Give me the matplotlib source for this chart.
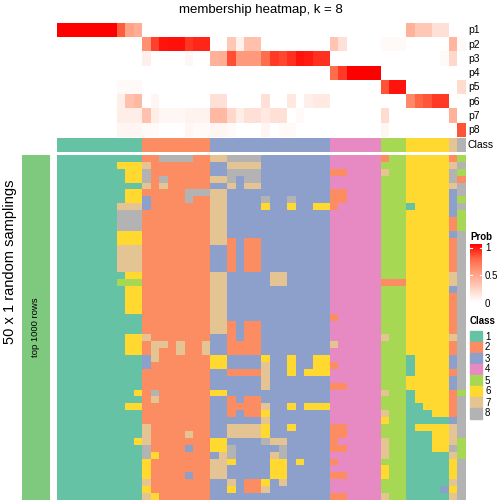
import numpy as np
import matplotlib
matplotlib.use("Agg")
import matplotlib.pyplot as plt
from matplotlib.colors import ListedColormap, BoundaryNorm, LinearSegmentedColormap
from matplotlib.patches import Rectangle

plt.rcParams['font.family'] = ['Liberation Sans', 'DejaVu Sans']

# ---------------- data ----------------
title = "membership heatmap, k = 8"
row_labels = ["p1", "p2", "p3", "p4", "p5", "p6", "p7", "p8"]
class_labels = ["1", "2", "3", "4", "5", "6", "7", "8"]
class_colors = ["#66C2A5", "#FC8D62", "#8DA0CB", "#E78AC3",
                "#A6D854", "#FFD92F", "#E5C494", "#B3B3B3"]
side_label = "50 x 1 random samplings"
side_bar_label = "top 1000 rows"
side_bar_color = "#7FC97F"

# consensus class of each of the 48 columns
consensus_class = "1111111111" "22222222" "33333333333333" "444444" "555" "66666" "7" "8"

# membership probabilities (48 columns each)
p1 = [1, 1, 1, 1, 1, 1, 1, 0.78, 0.48, 0.42] + [0] * 31 + [0.4, 0.29, 0.29, 0.16, 0.16, 0, 0]
p2 = [0] * 10 + [0.56, 0.84, 0.95, 0.96, 0.96, 0.87, 0.91, 0.91,
                 0, 0, 0.29, 0.07, 0.32, 0.32] + [0] * 8 + [0.3, 0.16, 0, 0, 0, 0,
                 0.03, 0.03, 0.03, 0, 0, 0, 0, 0, 0.38, 0.03]
p3 = [0] * 10 + [0.08, 0, 0, 0, 0, 0.04, 0, 0,
                 0.4, 0.42, 0.81, 0.52, 0.52, 0.52, 0.72, 0.86, 0.83, 0.88, 0.95, 0.93, 0.88, 0.88] + \
     [0] * 13 + [0.03, 0.2, 0]
p4 = [0] * 32 + [0.72, 0.86, 1, 1, 1, 1] + [0] * 10
p5 = [0] * 7 + [0.03, 0.03, 0.03] + [0] * 28 + [0.8, 0.95, 0.95] + [0] * 6 + [0.18]
p6 = [0] * 7 + [0.08, 0.32, 0.36, 0, 0.05] + [0] * 6 + [0.16, 0.16, 0, 0, 0, 0, 0.16, 0, 0, 0.12,
     0, 0.08, 0.11, 0.11] + [0] * 9 + [0.6, 0.75, 0.79, 0.86, 0.86, 0, 0]
p7 = [0] * 7 + [0.09, 0.09, 0.09, 0.32, 0.09, 0.04, 0.04, 0.04, 0.06, 0.06, 0.06,
     0.36, 0.36, 0.2, 0.09, 0.16, 0.16, 0.11, 0.16, 0.16, 0, 0.03, 0, 0, 0] + \
     [0] * 6 + [0.18, 0, 0] + [0] * 5 + [0.4, 0]
p8 = [0] * 7 + [0.05, 0.05, 0.05, 0.03, 0.03, 0, 0, 0, 0.05, 0.03, 0.03,
     0.05, 0.05, 0.03, 0, 0, 0, 0.05, 0, 0.03, 0.03, 0, 0, 0, 0] + \
     [0] * 6 + [0.05, 0, 0] + [0] * 5 + [0, 0.8]

# class assignments in each of the 50 samplings (rows) for the 48 columns
samplings = [
    "1111111 111 22888822 77888833333333 444444 255 66666 2 5",
    "1111111 666 72222222 33777733333333 444444 555 66666 7 8",
    "1111111 166 82222222 33888833333333 224444 755 66666 8 5",
    "1111111 166 82822222 77838833333333 444444 555 66666 8 2",
    "1111111 111 72722222 33737733333333 444444 555 66666 7 8",
    "1111111 166 22222888 77333333333333 224444 555 66666 3 8",
    "1111111 166 32222822 77333383383333 224444 555 66666 3 5",
    "1111111 777 32222222 77333363363366 244444 555 16666 3 8",
    "1111111 888 22222222 77333333333333 444444 555 66666 3 5",
    "1111111 888 22222222 77333333333333 444444 555 66666 2 5",
    "1111111 888 22222222 77333333333333 444444 555 66666 2 5",
    "1111111 666 22222222 77333333333333 444444 555 66666 3 8",
    "1111111 666 22222222 77232233333333 444444 555 66666 2 8",
    "1111111 777 22222222 33232233333333 444444 555 66666 2 8",
    "1111111 777 22222222 33232233333333 444444 555 66666 2 8",
    "1111111 777 22222222 33232233333333 444444 555 66666 2 8",
    "1111111 777 22222222 33232233333333 444444 555 66666 2 8",
    "1111111 166 22222222 77333337733333 444444 555 66666 7 8",
    "1111111 555 22222222 77333337733333 444444 222 66666 7 8",
    "1111111 166 22222222 77333333333333 444444 555 66666 3 8",
    "1111111 166 22222222 77333333333333 444444 555 66666 2 8",
    "1111111 166 22222222 77333333333333 444444 555 66666 2 8",
    "1111111 166 22222222 77333333333333 444444 555 66666 2 8",
    "1111111 111 22222222 77333333333333 244444 555 66666 2 8",
    "1111111 111 22222222 77232233333333 444444 555 66666 2 8",
    "1111111 111 22222222 77232233333333 444444 555 66666 2 8",
    "1111111 166 72222222 33232233333333 444444 755 66666 7 8",
    "1111111 166 27727227 33222233333333 744444 555 66666 2 8",
    "1111111 166 27227227 33222233333333 444444 555 66666 2 8",
    "1111111 111 37222222 66333363363366 444444 555 16666 3 8",
    "1111111 111 32222222 66333373363366 244444 555 16666 3 8",
    "1111111 111 22222222 33222273363666 444444 555 16666 2 8",
    "1111111 111 22222222 33333373333333 444444 555 66666 3 8",
    "1111111 111 22222222 33333373333333 224444 555 66666 3 8",
    "1111111 116 28222222 66333333333333 444444 755 16666 2 5",
    "1111111 111 27222222 33232233333333 444444 555 16666 2 8",
    "1111111 166 22222222 33222273363666 444444 555 11666 2 8",
    "1111111 111 22222222 33232263333333 444444 755 11166 2 8",
    "1111111 111 22222222 33333373333333 444444 655 11111 3 8",
    "1111111 111 72222222 33777763363333 224444 555 16666 7 8",
    "1111111 111 72222722 33777763333333 224444 555 11166 7 8",
    "1111111 116 72222222 66333387733333 244444 755 11166 7 5",
    "1111111 111 82222322 66833333833333 224444 755 11166 8 5",
    "1111111 111 86222222 37833337833333 444444 755 11111 7 5",
    "1111111 111 62222222 77633336636333 244444 555 11111 6 8",
    "1111111 111 62222222 77333336633333 444444 655 11111 6 8",
    "1111111 111 62222322 77333336633333 224444 655 11111 6 8",
    "1111111 111 72222222 33732263733333 444444 555 11111 7 8",
    "1111111 111 62222222 33632273333333 444444 555 11113 6 8",
    "1111111 111 76222222 33333333333333 224444 755 11111 7 8",
]

# ---------------- figure ----------------
W = H = 504
fig = plt.figure(figsize=(W / 100, H / 100), dpi=100)


def ax_px(x0, y0, x1, y1):
    return fig.add_axes([x0 / W, 1 - y1 / H, (x1 - x0) / W, (y1 - y0) / H])


X0, X1 = 57, 465.5

prob_cmap = LinearSegmentedColormap.from_list(
    "prob", [(0, "#FFFFFF"), (0.25, "#FFCFBF"), (0.5, "#FF9E81"),
             (0.75, "#FF6846"), (1.0, "#FF0000")])
class_cmap = ListedColormap(class_colors)
class_norm = BoundaryNorm(np.arange(0.5, 9.5, 1), class_cmap.N)

# membership heatmap
memb = np.array([p1, p2, p3, p4, p5, p6, p7, p8], dtype=float)
ax_m = ax_px(X0, 23.3, X1, 137.3)
ax_m.imshow(memb, cmap=prob_cmap, vmin=0, vmax=1, aspect="auto",
            interpolation="nearest")
ax_m.set_axis_off()

# class annotation bar
cons = np.array([[int(c) for c in consensus_class]])
ax_c = ax_px(X0, 138.3, X1, 152.3)
ax_c.imshow(cons, cmap=class_cmap, norm=class_norm, aspect="auto",
            interpolation="nearest")
ax_c.set_axis_off()

# right-hand labels
for i, lab in enumerate(row_labels):
    y = 23.3 + (i + 0.5) * (137.3 - 23.3) / 8
    fig.text(468 / W, 1 - y / H, lab, ha="left", va="center", fontsize=7.5)
fig.text(468 / W, 1 - 145.3 / H, "Class", ha="left", va="center", fontsize=7.5)

# sampling heatmap
samp = np.array([[int(c) for c in "".join(s.split())] for s in samplings])
ax_s = ax_px(X0, 155, X1, 500)
ax_s.imshow(samp, cmap=class_cmap, norm=class_norm, aspect="auto",
            interpolation="nearest")
ax_s.set_axis_off()

# left side bar
ax_l = ax_px(22, 155, 50, 500)
ax_l.add_patch(Rectangle((0, 0), 1, 1, color=side_bar_color))
ax_l.set_xlim(0, 1)
ax_l.set_ylim(0, 1)
ax_l.set_axis_off()
ax_l.text(0.5, 0.5, side_bar_label, rotation=90, ha="center", va="center",
          fontsize=6.8)

fig.text(10 / W, 1 - 262 / H, side_label, rotation=90, ha="center",
         va="center", fontsize=10.5)

# title
fig.text(261 / W, 1 - 10 / H, title, ha="center", va="center", fontsize=9.5)

# ---------------- legends ----------------
fig.text(470 / W, 1 - 237.5 / H, "Prob", ha="left", va="center",
         fontsize=7, fontweight="bold")
ax_cb = ax_px(470, 244, 482, 302)
grad = np.linspace(1, 0, 200).reshape(-1, 1)
ax_cb.imshow(grad, cmap=prob_cmap, vmin=0, vmax=1, aspect="auto",
             extent=[0, 1, 0, 1.07])
ax_cb.set_xlim(0, 1)
ax_cb.set_ylim(-0.0, 1.07)
for v in (1.0, 0.5):
    ax_cb.plot([0, 0.2], [v, v], color="white", lw=0.8)
    ax_cb.plot([0.8, 1], [v, v], color="white", lw=0.8)
ax_cb.set_axis_off()
for v, lab in [(1.0, "1"), (0.5, "0.5"), (0.0, "0")]:
    y = 304 - v * 56
    fig.text(485 / W, 1 - y / H, lab, ha="left", va="center", fontsize=7)

fig.text(470 / W, 1 - 321.5 / H, "Class", ha="left", va="center",
         fontsize=7, fontweight="bold")
for i, (lab, col) in enumerate(zip(class_labels, class_colors)):
    y0 = 331 + i * 11
    fig.patches.append(Rectangle((470 / W, 1 - (y0 + 11) / H), 12 / W, 11 / H,
                                 transform=fig.transFigure, color=col,
                                 figure=fig))
    fig.text(485 / W, 1 - (y0 + 5.5) / H, lab, ha="left", va="center",
             fontsize=7)

fig.savefig("out.png", dpi=100)
